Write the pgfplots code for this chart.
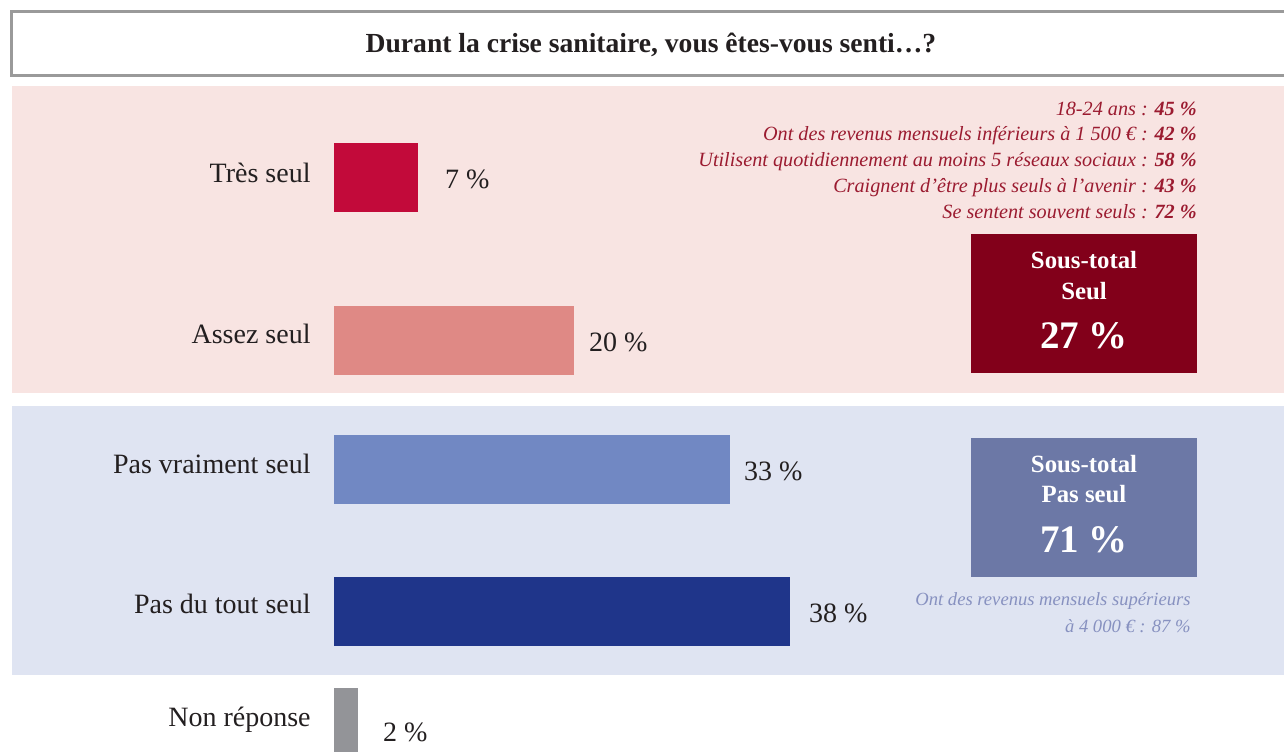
\documentclass[border=0pt]{standalone}
\usepackage{fontspec}
\setmainfont{Liberation Serif}
\usepackage{pgfplots}
\pgfplotsset{compat=1.18}
\definecolor{pinkbg}{HTML}{F8E4E2}
\definecolor{bluebg}{HTML}{DFE4F2}
\definecolor{titlegray}{HTML}{9A9A9A}
\definecolor{cTres}{HTML}{C20A3A}
\definecolor{cAssez}{HTML}{DF8985}
\definecolor{cPasVr}{HTML}{7188C3}
\definecolor{cPasTout}{HTML}{1F358A}
\definecolor{cNon}{HTML}{939498}
\definecolor{boxred}{HTML}{82001A}
\definecolor{boxblue}{HTML}{6C78A6}
\definecolor{notered}{HTML}{9B1B30}
\definecolor{noteblue}{HTML}{8791C0}
\definecolor{labc}{HTML}{231F20}
\newcommand{\fs}[2]{\fontsize{#1}{#2}\selectfont}
\begin{document}
\begin{tikzpicture}[x=0.5pt,y=-0.5pt]
% backgrounds
\fill[pinkbg] (12,86) rectangle (1290,393);
\fill[bluebg] (12,406) rectangle (1290,675);
\draw[titlegray, line width=1.5pt] (11.5,11.5) rectangle (1295,75);
\node[anchor=base, font=\bfseries\fs{13.8}{16}, text=labc] at (651,52) {Durant la crise sanitaire, vous êtes-vous senti…?};
% sub-total boxes
\fill[boxred] (971,234) rectangle (1197,373);
\fill[boxblue] (971,438) rectangle (1197,577);
\node[anchor=base, font=\bfseries\fs{12.4}{15}, text=white] at (1084,268) {Sous-total};
\node[anchor=base, font=\bfseries\fs{12.4}{15}, text=white] at (1084,299) {Seul};
\node[anchor=base, font=\bfseries\fs{19.5}{22}, text=white] at (1084,348) {27~\%};
\node[anchor=base, font=\bfseries\fs{12.4}{15}, text=white] at (1084,472) {Sous-total};
\node[anchor=base, font=\bfseries\fs{12.4}{15}, text=white] at (1084,502) {Pas seul};
\node[anchor=base, font=\bfseries\fs{19.5}{22}, text=white] at (1084,552) {71~\%};
% notes
\foreach \yy/\tt in {115/{18-24 ans : \textbf{45~\%}},
  140/{Ont des revenus mensuels inférieurs à 1 500 € : \textbf{42~\%}},
  166/{Utilisent quotidiennement au moins 5 réseaux sociaux : \textbf{58~\%}},
  192/{Craignent d'être plus seuls à l'avenir : \textbf{43~\%}},
  218/{Se sentent souvent seuls : \textbf{72~\%}}}
  {\node[anchor=base east, inner sep=0pt, font=\itshape\fs{10.1}{13}, text=notered] at (1197,\yy) {\tt};}
\node[anchor=base east, inner sep=0pt, font=\itshape\fs{9.3}{12}, text=noteblue] at (1191,605) {Ont des revenus mensuels supérieurs};
\node[anchor=base east, inner sep=0pt, font=\itshape\fs{9.3}{12}, text=noteblue] at (1191,632) {à 4 000 € : 87~\%};
% category labels
\foreach \yy/\tt in {182/Très seul, 343/Assez seul, 473/Pas vraiment seul, 613/Pas du tout seul, 726/Non réponse}
  {\node[anchor=base east, inner sep=0pt, font=\fs{14}{16}, text=labc] at (311,\yy) {\tt};}
\begin{axis}[at={(0pt,-375.5pt)}, anchor=south west,
  width=642pt, height=375.5pt, scale only axis,
  xmin=-27.8333, xmax=79.1667, ymin=0, ymax=751,
  hide axis, clip=false,
  /pgf/number format/assume math mode=true,
  every axis plot/.append style={xbar, bar shift=0pt, bar width=69, draw=none,
    point meta=x,
    nodes near coords={\pgfmathprintnumber{\pgfplotspointmeta}~\%},
    every node near coord/.append style={font=\fs{14}{16}, text=labc, anchor=west, yshift=-1pt}}]
\addplot[fill=cTres, every node near coord/.append style={xshift=10pt}] coordinates {(7,573.5)};
\addplot[fill=cAssez, every node near coord/.append style={xshift=4pt}] coordinates {(20,410.5)};
\addplot[fill=cPasVr, every node near coord/.append style={xshift=3.5pt}] coordinates {(33,282)};
\addplot[fill=cPasTout, every node near coord/.append style={xshift=6pt}] coordinates {(38,140)};
\addplot[fill=cNon, every node near coord/.append style={xshift=9pt,yshift=-4pt}] coordinates {(2,28.5)};
\end{axis}
\pgfresetboundingbox
\useasboundingbox (0,0) rectangle (1284,751);
\end{tikzpicture}
\end{document}
